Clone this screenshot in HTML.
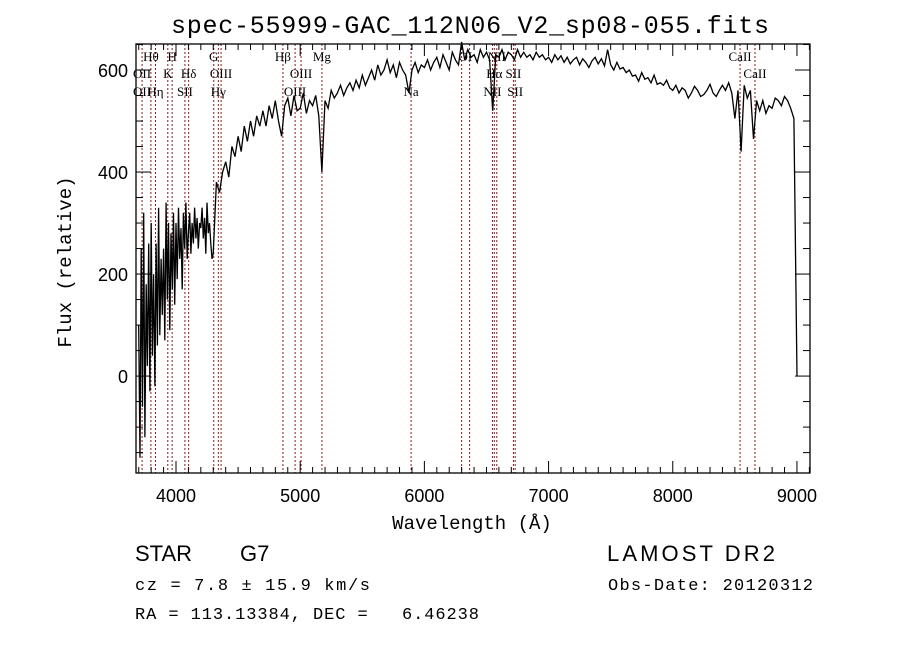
<!DOCTYPE html>
<html><head><meta charset="utf-8">
<style>
html,body{margin:0;padding:0;background:#fff;}
svg{display:block;}
text{fill:#000;}
</style></head>
<body>
<svg id="chart" width="900" height="649" viewBox="0 0 900 649" xmlns="http://www.w3.org/2000/svg">
  <rect x="0" y="0" width="900" height="649" fill="#fff"/>
  <text x="470" y="33" font-family="Liberation Mono, monospace" font-size="25" text-anchor="middle" textLength="598">spec-55999-GAC_112N06_V2_sp08-055.fits</text>
  <g id="lines"></g>
  <g id="spec"></g>
  <g id="axes"></g>
  <text x="472" y="529" font-family="Liberation Mono, monospace" font-size="19" text-anchor="middle">Wavelength (Å)</text>
  <text transform="translate(71,262) rotate(-90)" font-family="Liberation Mono, monospace" font-size="19" text-anchor="middle">Flux (relative)</text>
  <text x="135" y="561" font-family="Liberation Sans, sans-serif" font-size="22">STAR</text>
  <text x="240" y="561" font-family="Liberation Sans, sans-serif" font-size="22">G7</text>
  <text x="607" y="561" font-family="Liberation Sans, sans-serif" font-size="22" textLength="168">LAMOST DR2</text>
  <text x="135" y="590" font-family="Liberation Mono, monospace" font-size="17" textLength="235">cz = 7.8 ± 15.9 km/s</text>
  <text x="608" y="590" font-family="Liberation Mono, monospace" font-size="17" textLength="205">Obs-Date: 20120312</text>
  <text x="135" y="619" font-family="Liberation Mono, monospace" font-size="17" textLength="344" xml:space="preserve">RA = 113.13384, DEC =   6.46238</text>
</svg>
<script>
const blueStart = 3700;
const blueStep = 10;
const blueFlux = [
100,-160,250,-60,320,-120,180,20,260,-30,
300,40,200,-20,260,60,330,80,230,120,
250,70,340,150,300,90,280,170,320,140,
300,190,330,230,290,170,320,250,340,230,
280,320,240,300,260,330,270,310,250,300,
290,330,270,310,240,340,280,300,260,230
];
const redStart = 4300;
const redStep = 25;
const redFlux = [
240,380,360,400, 420,390,450,430,
470,440,490,460, 500,470,510,490, 520,490,530,505, 540,500,470,530,
545,510,550,520, 525,555,515,540, 530,550,510,400, 540,525,560,545,
555,570,550,565, 575,560,580,565, 590,570,585,600, 580,610,590,600,
620,595,610,585, 615,600,590,555, 600,615,595,610, 605,620,600,615,
625,605,630,615, 600,635,620,610, 655,620,640,625, 630,615,640,625,
635,620,520,630, 625,640,620,635, 630,620,640,625, 635,625,630,620,
635,625,630,620, 625,615,630,620, 628,615,625,612, 620,625,610,622,
615,605,618,625, 612,622,608,640, 610,600,615,602, 605,595,600,588,
590,578,595,582, 585,575,590,572, 575,570,580,565, 560,570,555,565,
560,545,555,568, 560,548,552,560, 572,555,548,560, 570,560,575,555,
505,560,440,570, 545,560,465,540, 520,540,515,530, 525,545,540,530,
548,540,525,505, 0
];
const lineWl = [3727,3798,3835,3934,3969,4072,4102,4304,4341,4363,4861,4959,5007,5175,5893,6300,6364,6548,6563,6583,6717,6731,8542,8662];
const labelText = ["Hθ","H","G","Hβ","Mg","OI","NII","CaII","OII","K","Hδ","OIII","OIII","Hα","SII","CaII","OII","Hη","SII","Hγ","OIII","Na","NII","SII"];
const labelWl   = [3798,3969,4304,4861,5175,6330,6583,8542,3727,3934,4102,4363,5007,6563,6717,8662,3727,3835,4072,4341,4959,5893,6548,6731];
const labelRow  = [0,0,0,0,0,0,0,0,1,1,1,1,1,1,1,1,2,2,2,2,2,2,2,2];
const xTicks = [4000,5000,6000,7000,8000,9000];
const yTicks = [0,200,400,600];

const X0=136,X1=810,Y0=44,Y1=473;
const wlMin=3678,wlMax=9105,fMin=-190,fMax=651;
const sx=w=>X0+(w-wlMin)/(wlMax-wlMin)*(X1-X0);
const sy=f=>Y1-(f-fMin)/(fMax-fMin)*(Y1-Y0);
const NS="http://www.w3.org/2000/svg";
function mk(tag,attrs,parent){const e=document.createElementNS(NS,tag);for(const k in attrs)e.setAttribute(k,attrs[k]);parent.appendChild(e);return e;}

const gl=document.getElementById('lines');
lineWl.forEach(w=>{
  const l=mk('line',{x1:sx(w),x2:sx(w),y1:Y0,y2:Y1,stroke:'#8b1a1a','stroke-width':1,'stroke-dasharray':'2,2'},gl);
  
  
});
const rowY=[61,78,96];
labelText.forEach((t,i)=>{
  const e=mk('text',{x:sx(labelWl[i]),y:rowY[labelRow[i]],'font-family':'Liberation Serif, serif','font-size':13,'text-anchor':'middle'},gl);
  e.textContent=t;
  
  
});

const gs=document.getElementById('spec');
const pts=[];
blueFlux.forEach((f,i)=>pts.push([blueStart+i*blueStep,f]));
redFlux.forEach((f,i)=>pts.push([redStart+i*redStep,f]));
let d='';
pts.forEach((p,i)=>{d+=(i?'L':'M')+sx(p[0]).toFixed(1)+','+sy(p[1]).toFixed(1);});
const p=mk('path',{d:d,fill:'none',stroke:'#000','stroke-width':1.3,'stroke-linejoin':'miter'},gs);



const ga=document.getElementById('axes');
const fr=mk('rect',{x:X0,y:Y0,width:X1-X0,height:Y1-Y0,fill:'none',stroke:'#000','stroke-width':1.3},ga);


for(let w=3700;w<=9100;w+=100){
  const maj=w%1000===0, L=maj?12:6, x=sx(w);
  mk('line',{x1:x,x2:x,y1:Y1,y2:Y1-L,stroke:'#000'},ga);
  mk('line',{x1:x,x2:x,y1:Y0,y2:Y0+L,stroke:'#000'},ga);
}
for(let f=-150;f<=650;f+=50){
  const maj=f%200===0, L=maj?15:7, y=sy(f);
  mk('line',{x1:X0,x2:X0+L,y1:y,y2:y,stroke:'#000'},ga);
  mk('line',{x1:X1,x2:X1-L,y1:y,y2:y,stroke:'#000'},ga);
}
xTicks.forEach(w=>{
  const t=mk('text',{x:sx(w),y:502,'font-family':'Liberation Sans, sans-serif','font-size':18,'text-anchor':'middle'},ga);
  t.textContent=w;
  
  
});
yTicks.forEach(f=>{
  const t=mk('text',{x:128,y:sy(f)+7,'font-family':'Liberation Sans, sans-serif','font-size':18,'text-anchor':'end'},ga);
  t.textContent=f;
  
  
});
</script>
</body></html>
